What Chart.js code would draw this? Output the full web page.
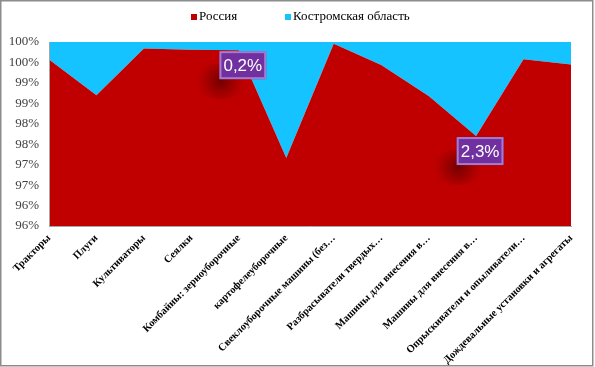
<!DOCTYPE html>
<html>
<head>
<meta charset="utf-8">
<script src="https://cdn.jsdelivr.net/npm/chart.js@4.4.1/dist/chart.umd.min.js"></script>
<style>
  html, body { margin: 0; padding: 0; background: #fff; }
  #wrap { width: 595px; height: 367px; position: relative; }
</style>
</head>
<body>
<div id="wrap"><canvas id="chart_area_russia_kostroma"></canvas></div>
<script>
// categories (as shown, truncated like the original)
const categories = [
  'Тракторы',
  'Плуги',
  'Культиваторы',
  'Сеялки',
  'Комбайны: зерноуборочные',
  'картофелеуборочные',
  'Свеклоуборочные машины (без…',
  'Разбрасыватели твердых…',
  'Машины для внесения в…',
  'Машины для внесения в…',
  'Опрыскиватели и опыливатели…',
  'Дождевальные установки и агрегаты'
];
// shares, %
const russiaShare   = [99.57, 98.70, 99.84, 99.81, 99.80, 97.16, 99.96, 99.44, 98.68, 97.70, 99.58, 99.45];
const kostromaShare = [0.43, 1.30, 0.16, 0.19, 0.20, 2.84, 0.04, 0.56, 1.32, 2.30, 0.42, 0.55];
// callout labels on the Kostroma series
const kostromaLabels = ['', '', '', '', '0,2%', '', '', '', '', '2,3%', '', ''];
// y ticks 95.5 .. 100 step 0.5, shown rounded
const yTickLabels = ['96%', '96%', '97%', '97%', '98%', '98%', '99%', '99%', '100%', '100%'];

var chart_area_russia_kostroma = new Chart(document.getElementById('chart_area_russia_kostroma'), {
    type: 'line',
    data: {
        labels: categories,
        datasets: [
            {
                label: 'Россия',
                data: russiaShare,
                backgroundColor: '#C00000',
                borderColor: '#C00000',
                borderWidth: 0,
                pointRadius: 0,
                tension: 0,
                fill: 'start'
            },
            {
                label: 'Костромская область',
                data: kostromaShare,
                backgroundColor: '#14C3FF',
                borderColor: '#14C3FF',
                borderWidth: 0,
                pointRadius: 0,
                tension: 0,
                fill: '-1'
            }
        ]
    },
    options: {
        animation: false,
        responsive: true,
        maintainAspectRatio: false,
        layout: {
            padding: { left: 0, right: 24, top: 42, bottom: 0 }
        },
        plugins: {
            legend: { display: false },
            tooltip: { enabled: false }
        },
        scales: {
            x: {
                stacked: true,
                offset: false,
                grid: { display: false, drawTicks: false },
                border: { display: true, color: '#A6A6A6', width: 1, z: 1 },
                ticks: {
                    autoSkip: false,
                    maxRotation: 45,
                    minRotation: 45,
                    padding: 6,
                    color: '#000',
                    font: { family: '"Liberation Serif", "Times New Roman", serif', size: 10.5, weight: 'bold' }
                },
                afterFit: function(scale) { scale.height = 141; }
            },
            y: {
                stacked: true,
                min: 95.5,
                max: 100,
                grid: { display: false, drawTicks: false },
                border: { display: true, color: '#A6A6A6', width: 1, z: 1 },
                ticks: {
                    stepSize: 0.5,
                    padding: 10,
                    color: '#404040',
                    font: { family: '"Liberation Serif", "Times New Roman", serif', size: 13 },
                    callback: function(value, index) {
                        return yTickLabels[index];
                    }
                },
                afterFit: function(scale) { scale.width = 49; }
            }
        }
    },
    plugins: [{
        id: 'whiteBackground',
        beforeDraw: (chart) => {
            const ctx = chart.ctx;
            ctx.save();
            ctx.fillStyle = 'white';
            ctx.fillRect(0, 0, chart.width, chart.height);
            ctx.restore();
        },
        afterDraw: (chart) => {
            const ctx = chart.ctx;
            ctx.save();
            ctx.strokeStyle = '#8C8C8C';
            ctx.lineWidth = 1.5;
            ctx.strokeRect(0.75, 0.75, chart.width - 3, chart.height - 2);
            ctx.restore();
        }
    }, {
        id: 'topLegend',
        afterDraw: (chart) => {
            const ctx = chart.ctx;
            const itemX = [191, 285];
            ctx.save();
            ctx.font = '13px "Liberation Serif", "Times New Roman", serif';
            ctx.textBaseline = 'middle';
            ctx.textAlign = 'left';
            chart.data.datasets.forEach((ds, i) => {
                ctx.fillStyle = ds.backgroundColor;
                ctx.fillRect(itemX[i], 14, 6, 6);
                ctx.fillStyle = '#000';
                ctx.fillText(ds.label, itemX[i] + 8, 17);
            });
            ctx.restore();
        }
    }, {
        id: 'calloutLabels',
        afterDatasetsDraw: (chart) => {
            const ctx = chart.ctx;
            const base = chart.getDatasetMeta(0).data;
            ctx.save();
            kostromaLabels.forEach((txt, i) => {
                if (!txt) return;
                const cx = base[i].x + 4;
                const cy = base[i].y + 15;
                // dark glow under the box
                const gx = cx - 22, gy = cy + 16;
                const g = ctx.createRadialGradient(gx, gy, 0, gx, gy, 26);
                g.addColorStop(0, 'rgba(105,0,0,0.9)');
                g.addColorStop(0.5, 'rgba(130,0,0,0.5)');
                g.addColorStop(1, 'rgba(170,0,0,0)');
                ctx.fillStyle = g;
                ctx.beginPath();
                ctx.ellipse(gx, gy, 28, 18, 0, 0, Math.PI * 2);
                ctx.fill();
                // box
                ctx.font = '17px "Liberation Sans", Arial, sans-serif';
                const w = ctx.measureText(txt).width + 8;
                const h = 28;
                ctx.fillStyle = '#7030A0';
                ctx.fillRect(cx - w / 2, cy - h / 2, w, h);
                ctx.strokeStyle = '#A47BD0';
                ctx.lineWidth = 2;
                ctx.strokeRect(cx - w / 2 + 1, cy - h / 2 + 1, w - 2, h - 2);
                ctx.fillStyle = '#fff';
                ctx.textAlign = 'center';
                ctx.textBaseline = 'middle';
                ctx.fillText(txt, cx, cy + 1);
            });
            ctx.restore();
        }
    }]
});
</script>
</body>
</html>
